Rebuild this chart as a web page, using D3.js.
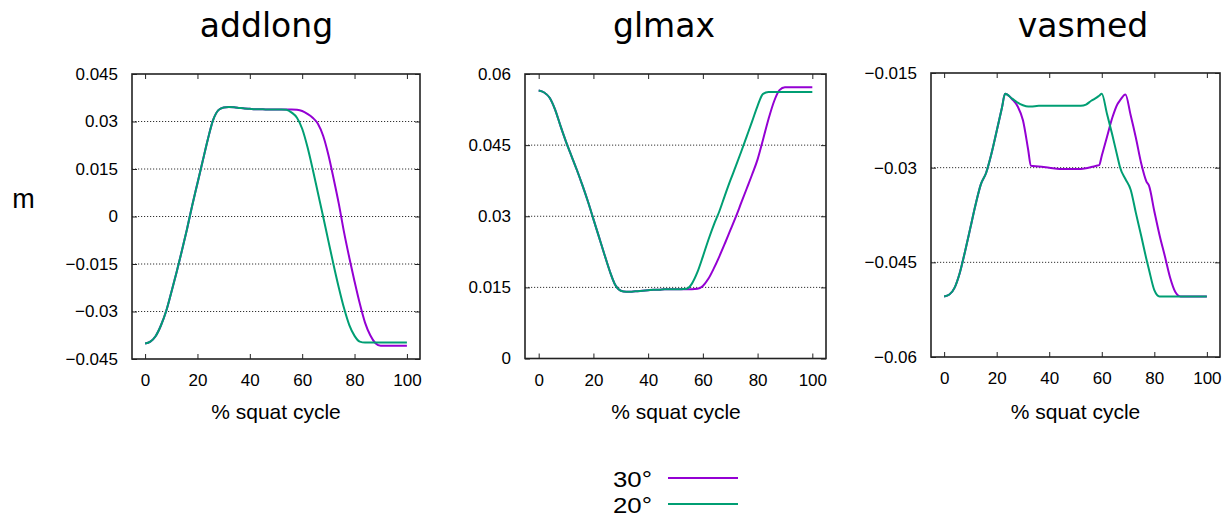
<!DOCTYPE html>
<html><head><meta charset="utf-8">
<script src="https://cdn.jsdelivr.net/npm/d3@7"></script>
<style>
html,body{margin:0;padding:0;background:#fff;}
svg{display:block;}
</style></head>
<body>
<svg id="chart" width="1231" height="518"></svg>
<script>
// ---------- DATA ----------
const seriesNames = ["30°", "20°"];
const xTickValues = [0, 20, 40, 60, 80, 100];

// addlong
const addlongX = [0,2,4,6,8,10,12,14,16,18,20,22,24,26,28,30,32,34,36,38,40,42,44,46,48,50,52,54,56,58,60,62,64,66,68,70,72,74,76,78,80,82,84,86,88,90,92,94,96,98,100];
const addlong30 = [-0.0401,-0.0395,-0.0378,-0.0345,-0.0300,-0.0240,-0.0177,-0.0110,-0.0040,0.0035,0.0105,0.0175,0.0245,0.0305,0.0336,0.0344,0.0346,0.0345,0.0343,0.0341,0.0340,0.0339,0.0339,0.0338,0.0338,0.0338,0.0338,0.0338,0.0338,0.0337,0.0333,0.0324,0.0312,0.0293,0.0255,0.0195,0.0120,0.0040,-0.0050,-0.0130,-0.0205,-0.0275,-0.0335,-0.0375,-0.0400,-0.0408,-0.0408,-0.0408,-0.0408,-0.0408,-0.0408];
const addlong20 = [-0.0401,-0.0395,-0.0378,-0.0345,-0.0300,-0.0240,-0.0177,-0.0110,-0.0040,0.0035,0.0105,0.0175,0.0245,0.0305,0.0336,0.0344,0.0346,0.0345,0.0343,0.0341,0.0340,0.0339,0.0339,0.0338,0.0338,0.0338,0.0338,0.0337,0.0328,0.0312,0.0277,0.0220,0.0150,0.0075,0.0000,-0.0077,-0.0153,-0.0225,-0.0290,-0.0343,-0.0377,-0.0395,-0.0398,-0.0398,-0.0398,-0.0398,-0.0398,-0.0398,-0.0398,-0.0398,-0.0398];
const addlongTicks = [-0.045,-0.03,-0.015,0,0.015,0.03,0.045];
const addlongTickLabels = ["\u22120.045","\u22120.03","\u22120.015","0","0.015","0.03","0.045"];

// glmax
const glmaxX = addlongX;
const glmax30 = [0.0565,0.0561,0.0550,0.0525,0.0490,0.0457,0.0427,0.0397,0.0365,0.0331,0.0294,0.0257,0.0220,0.0184,0.0155,0.0143,0.0141,0.0141,0.0142,0.0143,0.0144,0.0145,0.0145,0.0146,0.0146,0.0146,0.0146,0.0146,0.0146,0.0147,0.0153,0.0168,0.0190,0.0215,0.0242,0.0270,0.0298,0.0328,0.0358,0.0388,0.0420,0.0462,0.0505,0.0542,0.0566,0.0572,0.0572,0.0572,0.0572,0.0572,0.0572];
const glmax20 = [0.0565,0.0561,0.0550,0.0525,0.0490,0.0457,0.0427,0.0397,0.0365,0.0331,0.0294,0.0257,0.0220,0.0184,0.0155,0.0143,0.0141,0.0141,0.0142,0.0143,0.0144,0.0145,0.0145,0.0146,0.0146,0.0146,0.0146,0.0147,0.0158,0.0182,0.0215,0.0250,0.0282,0.0310,0.0343,0.0375,0.0405,0.0436,0.0468,0.0500,0.0533,0.0558,0.0562,0.0562,0.0562,0.0562,0.0562,0.0562,0.0562,0.0562,0.0562];
const glmaxTicks = [0,0.015,0.03,0.045,0.06];
const glmaxTickLabels = ["0","0.015","0.03","0.045","0.06"];

// vasmed
const vasmedX = [0,2,4,6,8,10,12,14,16,18,20,22,23.2,26,28,30,32,33,36,40,44,48,52,54,56,58,59,60,62,64,66,67,69,71,73,75,77,78,80,82,84,86,88,90,95,100];
const vasmed30 = [-0.0504,-0.0501,-0.0490,-0.0466,-0.0432,-0.0395,-0.0358,-0.0326,-0.0308,-0.0278,-0.0242,-0.0205,-0.0183,-0.0192,-0.0203,-0.0225,-0.0272,-0.0297,-0.0298,-0.0300,-0.0302,-0.0302,-0.0302,-0.0301,-0.0299,-0.0297,-0.0296,-0.0281,-0.0251,-0.0221,-0.0199,-0.0193,-0.0184,-0.0217,-0.0253,-0.0293,-0.0322,-0.0329,-0.0369,-0.0407,-0.0440,-0.0474,-0.0497,-0.0504,-0.0504,-0.0504];
const vasmed20 = [-0.0504,-0.0501,-0.0490,-0.0466,-0.0432,-0.0395,-0.0358,-0.0326,-0.0308,-0.0278,-0.0242,-0.0205,-0.0183,-0.0191,-0.0197,-0.0201,-0.0203,-0.0203,-0.0202,-0.0202,-0.0202,-0.0202,-0.0202,-0.0200,-0.0194,-0.0189,-0.0186,-0.0183,-0.0215,-0.0248,-0.0283,-0.0300,-0.0318,-0.0335,-0.0372,-0.0408,-0.0445,-0.0462,-0.0494,-0.0504,-0.0504,-0.0504,-0.0504,-0.0504,-0.0504,-0.0504];
const vasmedTicks = [-0.06,-0.045,-0.03,-0.015];
const vasmedTickLabels = ["\u22120.06","\u22120.045","\u22120.03","\u22120.015"];

const colors = ["#9400D3", "#009E73"];

// ---------- LAYOUT ----------
const panels = [
  {title:"addlong", x:addlongX, ys:[addlong30, addlong20], ticks:addlongTicks, labels:addlongTickLabels,
   domain:[-0.045,0.045], box:[132,74,420,359], titleX:266.5, labelX:276},
  {title:"glmax", x:glmaxX, ys:[glmax30, glmax20], ticks:glmaxTicks, labels:glmaxTickLabels,
   domain:[0,0.06], box:[525,74,826,358.5], titleX:664, labelX:676},
  {title:"vasmed", x:vasmedX, ys:[vasmed30, vasmed20], ticks:vasmedTicks, labels:vasmedTickLabels,
   domain:[-0.06,-0.015], box:[931,73,1220,357], titleX:1083, labelX:1075.5}
];

const svg = d3.select("#chart");
const tickFont = "'Liberation Sans', Arial, Helvetica, sans-serif";

panels.forEach(p => {
  const [x0,y0,x1,y1] = p.box;
  const xs = d3.scaleLinear().domain([-5,105]).range([x0,x1]);
  const ys = d3.scaleLinear().domain(p.domain).range([y1,y0]);
  const g = svg.append("g");

  // grid lines (dotted) at inner ticks
  g.append("g").selectAll("line")
    .data(p.ticks.filter(t => t !== p.domain[0] && t !== p.domain[1]))
    .join("line")
    .attr("x1", x0).attr("x2", x1)
    .attr("y1", d => ys(d)).attr("y2", d => ys(d))
    .attr("stroke", "#333").attr("stroke-width", 1)
    .attr("stroke-dasharray", "1.2,1.8");

  // axes
  const fmt = d => p.labels[p.ticks.indexOf(d)];
  const left = g.append("g").attr("transform", `translate(${x0},0)`)
    .call(d3.axisLeft(ys).tickValues(p.ticks).tickFormat(fmt).tickSizeInner(-5).tickSizeOuter(0).tickPadding(14));
  const right = g.append("g").attr("transform", `translate(${x1},0)`)
    .call(d3.axisRight(ys).tickValues(p.ticks).tickFormat("").tickSizeInner(-5).tickSizeOuter(0));
  const bottom = g.append("g").attr("transform", `translate(0,${y1})`)
    .call(d3.axisBottom(xs).tickValues(xTickValues).tickFormat(d3.format("d")).tickSizeInner(-5).tickSizeOuter(0).tickPadding(15));
  const top = g.append("g").attr("transform", `translate(0,${y0})`)
    .call(d3.axisTop(xs).tickValues(xTickValues).tickFormat("").tickSizeInner(-5).tickSizeOuter(0));
  [left,right,bottom,top].forEach(a => {
    a.select(".domain").remove();
    a.selectAll("line").attr("stroke", "#222").attr("stroke-width", 1);
    a.selectAll("text").attr("font-family", tickFont).attr("font-size", 17).attr("fill", "#000");
  });

  // border
  g.append("rect").attr("x", x0).attr("y", y0).attr("width", x1-x0).attr("height", y1-y0)
    .attr("fill", "none").attr("stroke", "#222").attr("stroke-width", 1.6);

  // lines: draw 30° first, then 20°
  p.ys.forEach((vals, i) => {
    const line = d3.line().x((d,j) => xs(p.x[j])).y(d => ys(d)).curve(d3.curveMonotoneX);
    g.append("path").datum(vals).attr("d", line)
      .attr("fill", "none").attr("stroke", colors[i]).attr("stroke-width", 2)
      .attr("stroke-linejoin", "round");
  });

  // title
  svg.append("text").attr("x", p.titleX).attr("y", 37).attr("text-anchor", "middle")
    .attr("font-family", "'DejaVu Sans', sans-serif").attr("font-size", 33).text(p.title);
  // x label
  svg.append("text").attr("x", p.labelX).attr("y", 419).attr("text-anchor", "middle")
    .attr("font-family", tickFont).attr("font-size", 21).text("% squat cycle");
});

// y label
svg.append("text").attr("x", 23.5).attr("y", 208).attr("text-anchor", "middle")
  .attr("font-family", tickFont).attr("font-size", 27).text("m");

// legend
const legY = [478, 504];
seriesNames.forEach((name, i) => {
  svg.append("text").attr("x", 652).attr("y", legY[i] + 8.5).attr("text-anchor", "end")
    .attr("font-family", tickFont).attr("font-size", 22.5)
    .attr("textLength", 39).attr("lengthAdjust", "spacingAndGlyphs").text(name);
  svg.append("line").attr("x1", 668).attr("x2", 738).attr("y1", legY[i]).attr("y2", legY[i])
    .attr("stroke", colors[i]).attr("stroke-width", 2);
});
</script>
</body></html>
